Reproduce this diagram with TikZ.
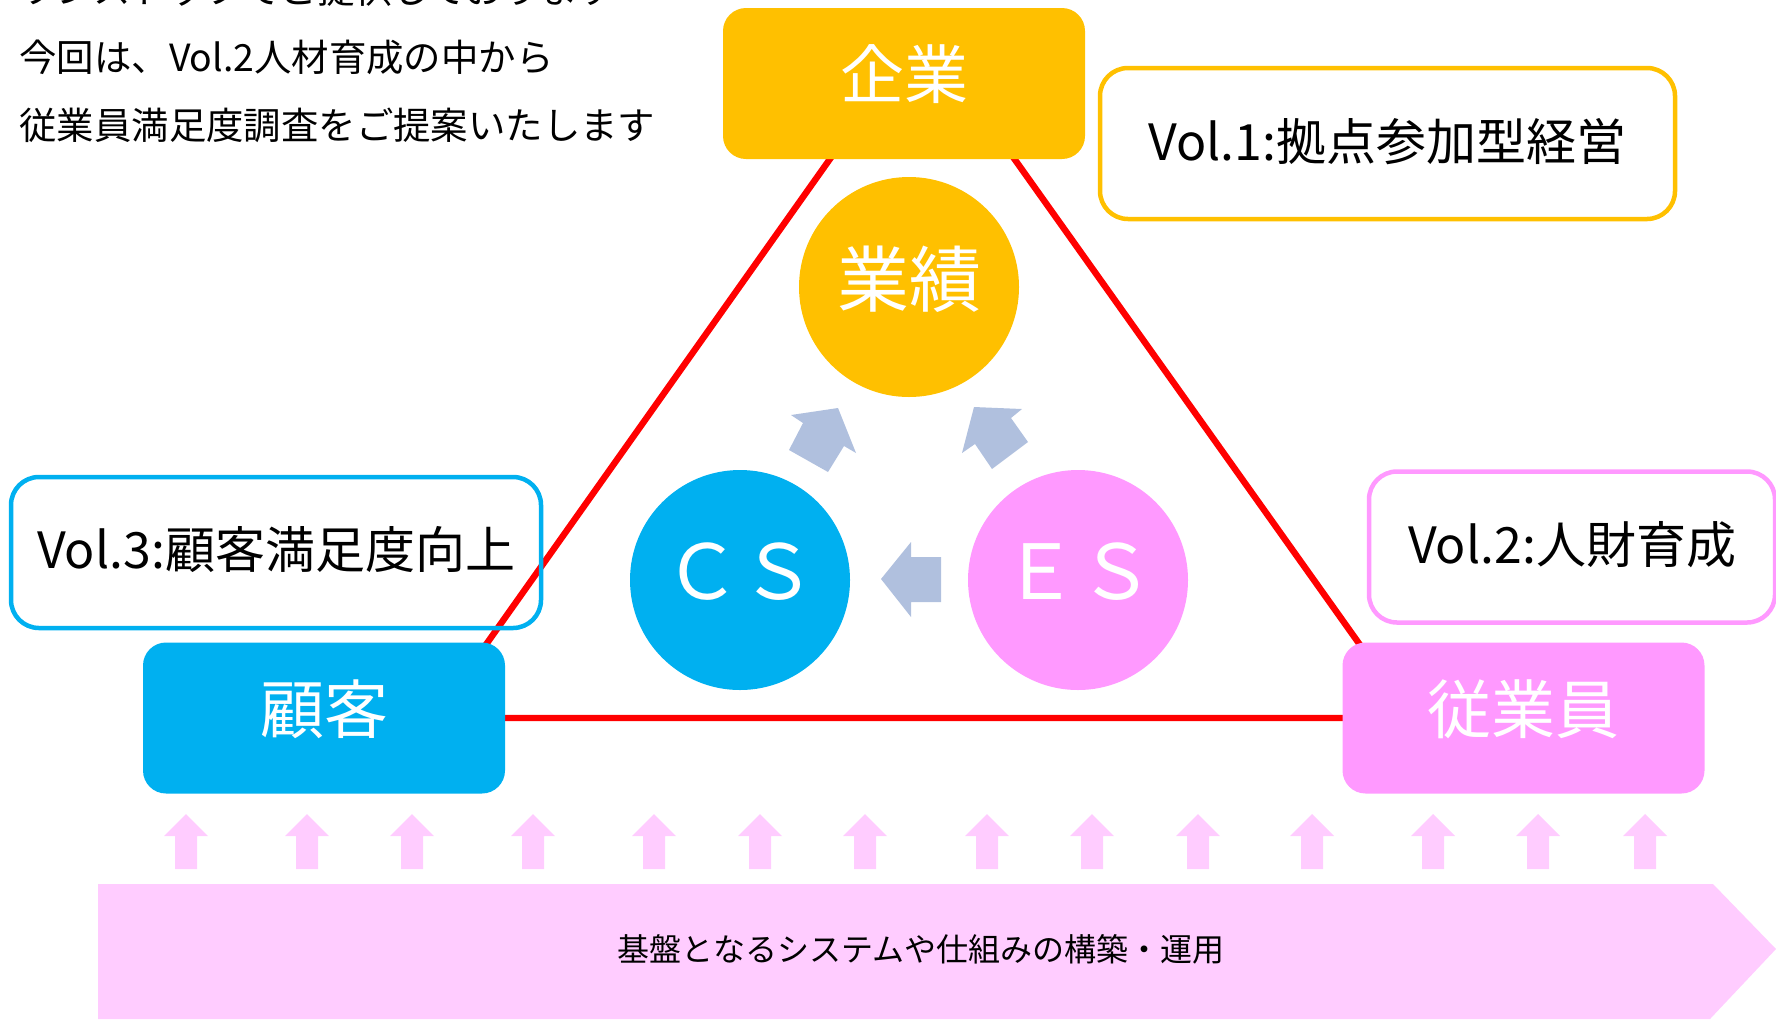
\documentclass[tikz,border=0pt]{standalone}
\usepackage{fontspec}
\setmainfont{Noto Sans CJK JP}
\definecolor{gold}{HTML}{FFC000}
\definecolor{cyanb}{HTML}{00B0F0}
\definecolor{pinkb}{HTML}{FF99FF}
\definecolor{lpink}{HTML}{FFCCFF}
\definecolor{steel}{RGB}{176,192,222}
\newcommand{\upby}[2]{\raisebox{#1}[\height][\depth]{#2}}
\begin{document}
\begin{tikzpicture}[x=0.5pt,y=-0.5pt,
  fillbox/.style={rounded corners=11.5pt, inner sep=0pt, text=white,
    minimum width=181pt, minimum height=75.5pt,
    font=\fontsize{32pt}{38pt}\selectfont},
  volbox/.style={rounded corners=14pt, inner sep=0pt, line width=2.25pt,
    minimum height=75.5pt, text=black,
    font=\fontsize{25pt}{30pt}\selectfont},
  ball/.style={circle, inner sep=0pt, minimum size=110pt, text=white},
  redline/.style={red, line width=3.2pt},
  upar/.style={fill=lpink},
  grayar/.style={fill=steel},
  toptext/.style={anchor=west, inner sep=0pt, font=\fontsize{18.7pt}{22pt}\selectfont}
]
\useasboundingbox (0,0) rectangle (1776,1019);
\clip (0,0) rectangle (1776,1019);

% red triangle
\coordinate (apex) at (922,29);
\coordinate (bl) at (434,718);
\coordinate (br) at (1412,718);
\draw[redline] (apex) -- (bl) -- (br) -- cycle;

% intro text
\node[toptext] (t1) at (19,-11) {ワンストップでご提供しております};
\node[toptext] (t2) at (19,57) {今回は、Vol.2人材育成の中から};
\node[toptext] (t3) at (19,125) {従業員満足度調査をご提案いたします};

% main boxes
\node[fillbox, fill=gold] (kigyo) at (904,83.5) {\upby{4.5pt}{企業}};
\node[fillbox, fill=cyanb] (kokyaku) at (324,718) {\upby{4.5pt}{顧客}};
\node[fillbox, fill=pinkb] (jugyoin) at (1523.5,718) {\upby{4.5pt}{従業員}};

% vol boxes
\node[volbox, draw=gold, minimum width=287.5pt] (vol1) at (1387.5,143.5) {\upby{1pt}{Vol.1:拠点参加型経営}};
\node[volbox, draw=cyanb, minimum width=265pt] (vol3) at (276,552.5) {\upby{1.5pt}{Vol.3:顧客満足度向上}};
\node[volbox, draw=pinkb, minimum width=203pt] (vol2) at (1572,547) {\upby{1pt}{Vol.2:人財育成}};

% circles
\node[ball, fill=gold, font=\fontsize{36pt}{42pt}\selectfont] (gyoseki) at (909,287) {\upby{4pt}{業績}};
\node[ball, fill=cyanb, font=\fontsize{38pt}{44pt}\selectfont] (cs) at (740,580) {\upby{4pt}{ＣＳ}};
\node[ball, fill=pinkb, font=\fontsize{38pt}{44pt}\selectfont] (es) at (1078,580) {\upby{4pt}{ＥＳ}};

% gray block arrows
\fill[grayar] (881,579) -- (911,542) -- (911,557) -- (941,557) -- (941,602) -- (911,602) -- (911,617) -- cycle;
\fill[grayar] (791,415) -- (838,408) -- (856,453) -- (844,446) -- (828,472) -- (789,450) -- (803,423) -- cycle;
\fill[grayar] (974,407) -- (1022,409) -- (1011,418) -- (1028,442) -- (992,469) -- (975,444) -- (962,453) -- cycle;

% pink up arrows
\foreach \cx in {186,307,412,533,654,760,865,987,1092,1198,1312,1433,1538,1645}
  \fill[upar] (\cx,814) -- (\cx+22,836) -- (\cx+11,836) -- (\cx+11,869)
    -- (\cx-11,869) -- (\cx-11,836) -- (\cx-22,836) -- cycle;

% banner
\fill[lpink] (98,884) -- (1713,884) -- (1776,949) -- (1710,1019) -- (98,1019) -- cycle;
\node[font=\fontsize{16pt}{19pt}\selectfont, inner sep=0pt] (base) at (921,949) {基盤となるシステムや仕組みの構築・運用};
\end{tikzpicture}
\end{document}
